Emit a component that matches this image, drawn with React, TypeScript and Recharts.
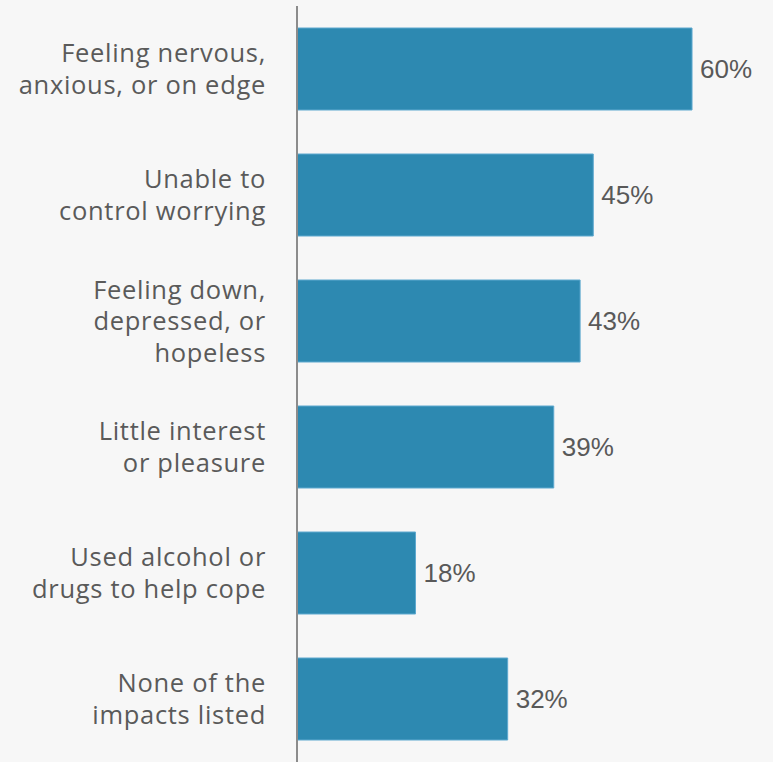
import { Bar, BarChart, LabelList, XAxis, YAxis } from 'recharts'

const categories = [
  'Feeling nervous,\nanxious, or on edge',
  'Unable to\ncontrol worrying',
  'Feeling down,\ndepressed, or\nhopeless',
  'Little interest\nor pleasure',
  'Used alcohol or\ndrugs to help cope',
  'None of the\nimpacts listed',
]
const shares = [60, 45, 43, 39, 18, 32]

const data = categories.map((label, i) => ({ label, value: shares[i] }))

const LINE_HEIGHT = 31.5

function CategoryTick(props: any) {
  const { x, y, payload } = props
  const lines: string[] = String(payload.value).split('\n')
  const start = -((lines.length - 1) / 2) * LINE_HEIGHT + 9
  return (
    <text
      x={x}
      y={y}
      textAnchor='end'
      fill='#5a5a5a'
      fontSize={25.5}
      letterSpacing={0.7}
      fontFamily='"Open Sans", sans-serif'
    >
      {lines.map((line, i) => (
        <tspan key={i} x={x} y={y + start + i * LINE_HEIGHT}>
          {line}
        </tspan>
      ))}
    </text>
  )
}

export default function App() {
  return (
    <div
      style={{
        position: 'fixed',
        left: 0,
        top: 0,
        width: 773,
        height: 762,
        background: '#f7f7f7',
      }}
    >
      <BarChart
        width={773}
        height={762}
        data={data}
        layout='vertical'
        margin={{ top: 6, right: 0, bottom: 0, left: 0 }}
      >
        <XAxis type='number' domain={[0, 72.3]} hide />
        <YAxis
          type='category'
          dataKey='label'
          width={297}
          axisLine={{ stroke: '#8c8c8c', strokeWidth: 2 }}
          tickLine={false}
          tickSize={0}
          tickMargin={31}
          tick={<CategoryTick />}
          interval={0}
        />
        <Bar
          dataKey='value'
          fill='#2d89b1'
          stroke='#5ea9cf'
          strokeWidth={1}
          barSize={82}
          isAnimationActive={false}
        >
          <LabelList
            dataKey='value'
            position='right'
            offset={8}
            fill='#595959'
            fontSize={26}
            fontFamily='"Liberation Sans", Arial, sans-serif'
            formatter={(v: any) => `${v}%`}
          />
        </Bar>
      </BarChart>
    </div>
  )
}
